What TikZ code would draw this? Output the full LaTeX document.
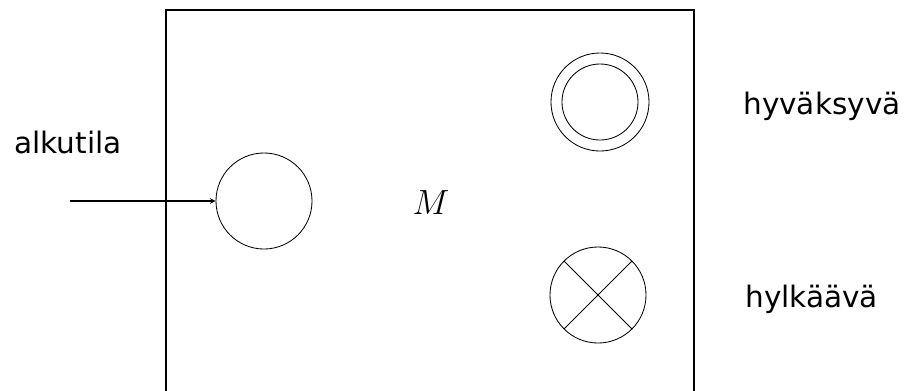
\documentclass[tikz,border=0pt]{standalone}
\usepackage{fontspec}
\newfontfamily\dejavu{DejaVu Sans}
\begin{document}
\begin{tikzpicture}[x=0.025cm,y=-0.025cm,
  tila/.style={draw,circle,minimum size=2.4cm,inner sep=0pt,line width=0.6pt},
  selite/.style={font=\dejavu\fontsize{21}{25}\selectfont,anchor=base west,inner sep=0pt}]
  \useasboundingbox (0,0) rectangle (909,390);

  % kone M
  \draw[line width=1.1pt] (166,400) |- (694,10) -- (694,400);
  \node (kone) at (431,203) {\fontsize{24}{28}\selectfont $M$};

  % alkutila
  \node[tila] (alku) at (264,201) {};
  \coordinate (tulo) at (70,201);
  \draw[-stealth,line width=0.8pt] (tulo) -- (alku);
  \node[selite] (alkuteksti) at (14,153) {alkutila};

  % hyväksyvä tila
  \node[tila,minimum size=2.45cm] (hyv) at (600,102) {};
  \draw[line width=0.6pt] (hyv.center) circle[radius=0.95cm];
  \node[selite] (hyvteksti) at (743,114) {hyväksyvä};

  % hylkäävä tila
  \node[tila] (hyl) at (598,295) {};
  \draw[line width=0.6pt] (hyl.north west) -- (hyl.south east);
  \draw[line width=0.6pt] (hyl.north east) -- (hyl.south west);
  \node[selite] (hylteksti) at (745,307) {hylkäävä};
\end{tikzpicture}
\end{document}
